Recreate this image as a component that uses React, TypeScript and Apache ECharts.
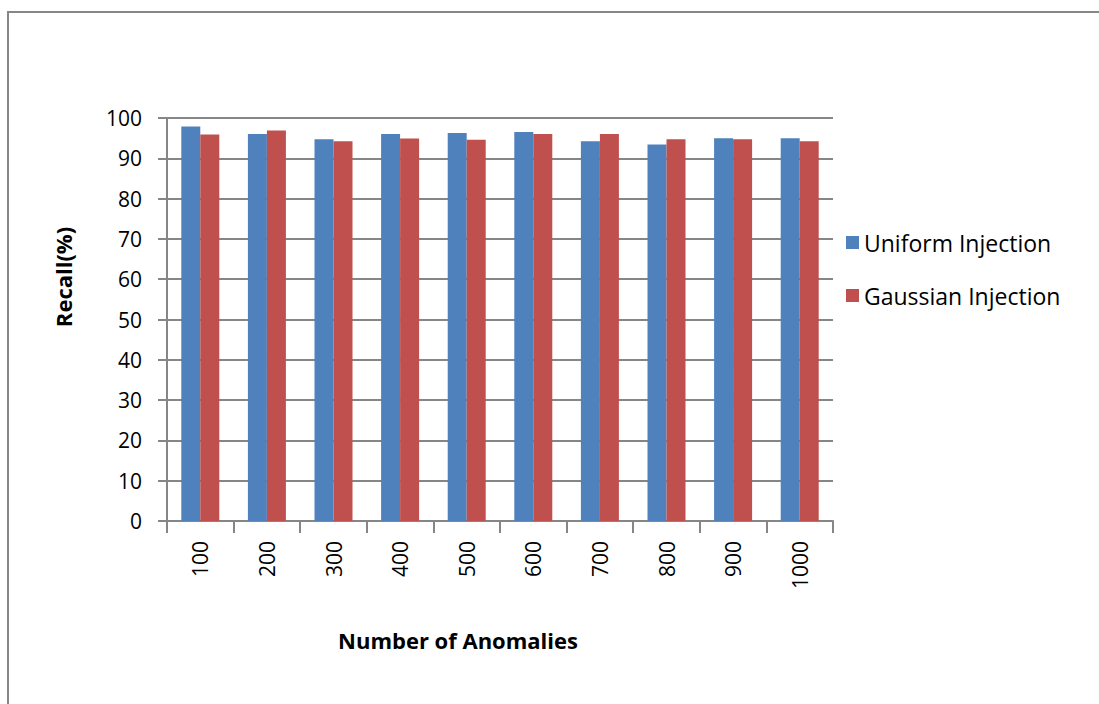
import React, { useEffect, useRef } from "react";
import * as echarts from "echarts";

const categories = ["100", "200", "300", "400", "500", "600", "700", "800", "900", "1000"];
const uniformRecall = [97.9, 96.0, 94.7, 96.0, 96.3, 96.5, 94.2, 93.4, 95.0, 95.0];
const gaussianRecall = [95.9, 96.9, 94.2, 94.9, 94.6, 96.0, 96.0, 94.7, 94.7, 94.2];
const yTicks = [0, 10, 20, 30, 40, 50, 60, 70, 80, 90, 100];

const FONT = "'Open Sans', 'Liberation Sans', sans-serif";
const GRAY = "#868686";

export default function App() {
  const ref = useRef<HTMLDivElement>(null);

  useEffect(() => {
    if (!ref.current) return;
    const chart = echarts.init(ref.current, undefined, { renderer: "svg" });
    chart.setOption({
      animation: false,
      backgroundColor: "#ffffff",
      grid: { left: 167, right: 266, top: 118, bottom: 183, containLabel: false },
      legend: {
        orient: "vertical",
        left: 841,
        top: 226,
        itemWidth: 13,
        itemHeight: 13,
        itemGap: 30,
        icon: "rect",
        textStyle: { fontFamily: FONT, fontSize: 23, color: "#000" },
        data: ["Uniform Injection", "Gaussian Injection"],
      },
      xAxis: {
        type: "category",
        data: categories,
        axisLine: { lineStyle: { color: GRAY, width: 2 } },
        axisTick: { show: true, length: 12, lineStyle: { color: GRAY, width: 2 } },
        axisLabel: {
          rotate: 90,
          margin: 20,
          fontFamily: FONT,
          fontSize: 21,
          color: "#000",
        },
      },
      yAxis: {
        type: "value",
        min: 0,
        max: 100,
        interval: 10,
        axisLine: { show: true, lineStyle: { color: GRAY, width: 2 } },
        axisTick: { show: true, length: 9, lineStyle: { color: GRAY, width: 2 } },
        axisLabel: {
          fontFamily: FONT,
          fontSize: 21,
          color: "#000",
          margin: 25,
          formatter: (v: number) => (yTicks.includes(v) ? String(v) : ""),
        },
        splitLine: { lineStyle: { color: GRAY, width: 2 } },
      },
      series: [
        {
          name: "Uniform Injection",
          type: "bar",
          data: uniformRecall,
          barWidth: 19,
          barGap: "0%",
          itemStyle: { color: "#4F81BD" },
        },
        {
          name: "Gaussian Injection",
          type: "bar",
          data: gaussianRecall,
          barWidth: 19,
          barGap: "0%",
          itemStyle: { color: "#C0504D" },
        },
      ],
      graphic: [
        {
          type: "rect",
          shape: { x: 8, y: 12, width: 1200, height: 800 },
          style: { fill: "none", stroke: GRAY, lineWidth: 2 },
          silent: true,
        },
        {
          type: "text",
          x: 63,
          y: 277,
          rotation: Math.PI / 2,
          style: {
            text: "Recall(%)",
            fontFamily: FONT,
            fontSize: 22,
            fontWeight: "bold",
            fill: "#000",
            align: "center",
            verticalAlign: "middle",
          },
        },
        {
          type: "text",
          x: 458,
          y: 640,
          style: {
            text: "Number of Anomalies",
            fontFamily: FONT,
            fontSize: 22,
            fontWeight: "bold",
            fill: "#000",
            align: "center",
            verticalAlign: "middle",
          },
        },
      ],
    });
    return () => chart.dispose();
  }, []);

  return (
    <div
      ref={ref}
      style={{ position: "fixed", left: 0, top: 0, width: 1099, height: 704 }}
    />
  );
}
